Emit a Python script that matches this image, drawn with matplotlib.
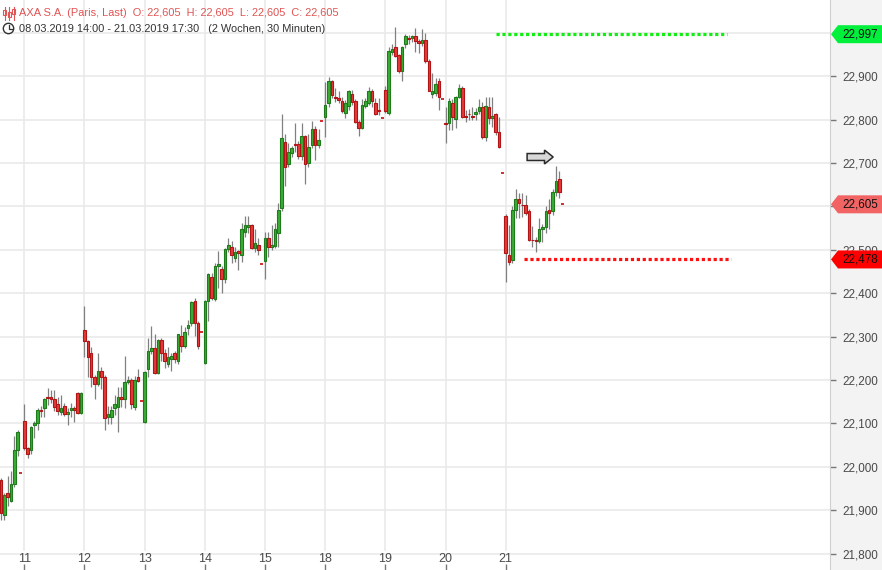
import numpy as np
import matplotlib
matplotlib.use("Agg")
import matplotlib.pyplot as plt
from matplotlib.patches import Polygon, FancyArrow, Circle, Rectangle
from matplotlib.lines import Line2D
from matplotlib.transforms import IdentityTransform, blended_transform_factory

plt.rcParams['font.family'] = ['Liberation Sans', 'DejaVu Sans']

# AXA S.A. 30 min candles, 08.03.2019 14:00 - 21.03.2019 17:30
day_labels = ["8", "11", "12", "13", "14", "15", "18", "19", "20", "21"]
candles_per_day = [8, 18, 18, 18, 18, 18, 18, 18, 18, 18]

opens = [21.955, 21.970, 21.888, 21.939, 21.922, 21.960, 22.040, 21.985,
         22.106, 22.044, 22.040, 22.096, 22.100, 22.131, 22.135, 22.160, 22.162, 22.156, 22.144, 22.126, 22.140, 22.122, 22.130, 22.136, 22.170, 22.125,
         22.315, 22.290, 22.262, 22.207, 22.191, 22.221, 22.207, 22.114, 22.114, 22.135, 22.139, 22.160, 22.156, 22.195, 22.200, 22.139, 22.207, 22.152,
         22.104, 22.225, 22.267, 22.275, 22.216, 22.292, 22.262, 22.236, 22.249, 22.262, 22.245, 22.302, 22.279, 22.321, 22.331, 22.383, 22.331, 22.310,
         22.240, 22.383, 22.437, 22.386, 22.463, 22.455, 22.432, 22.501, 22.506, 22.481, 22.497, 22.488, 22.541, 22.552, 22.557, 22.505, 22.511, 22.467,
         22.475, 22.527, 22.506, 22.510, 22.540, 22.596, 22.748, 22.697, 22.723, 22.745, 22.743, 22.717, 22.762, 22.701, 22.742, 22.779, 22.742, 22.796,
         22.807, 22.838, 22.889, 22.852, 22.851, 22.843, 22.816, 22.832, 22.859, 22.843, 22.795, 22.782, 22.832, 22.838, 22.865, 22.838, 22.822, 22.803,
         22.868, 22.816, 22.957, 22.967, 22.949, 22.913, 22.974, 22.988, 22.988, 22.993, 22.982, 22.977, 22.984, 22.936, 22.859, 22.861, 22.889, 22.848,
         22.792, 22.792, 22.838, 22.802, 22.852, 22.872, 22.808, 22.813, 22.808, 22.812, 22.821, 22.829, 22.761, 22.829, 22.803, 22.812, 22.772, 22.677,
         22.578, 22.488, 22.477, 22.592, 22.617, 22.604, 22.603, 22.589, 22.523, 22.522, 22.521, 22.547, 22.552, 22.592, 22.590, 22.633, 22.663, 22.605]

highs = [21.985, 21.975, 21.940, 21.980, 21.990, 22.071, 22.085, 21.985,
         22.145, 22.046, 22.095, 22.106, 22.136, 22.140, 22.158, 22.182, 22.177, 22.177, 22.160, 22.165, 22.148, 22.135, 22.148, 22.140, 22.172, 22.172,
         22.370, 22.292, 22.277, 22.212, 22.263, 22.230, 22.212, 22.140, 22.140, 22.166, 22.184, 22.183, 22.256, 22.210, 22.205, 22.210, 22.225, 22.152,
         22.222, 22.296, 22.325, 22.306, 22.295, 22.296, 22.271, 22.276, 22.263, 22.268, 22.306, 22.327, 22.322, 22.338, 22.383, 22.388, 22.335, 22.310,
         22.385, 22.447, 22.446, 22.470, 22.497, 22.462, 22.505, 22.527, 22.521, 22.507, 22.500, 22.561, 22.577, 22.577, 22.560, 22.547, 22.527, 22.467,
         22.541, 22.542, 22.557, 22.561, 22.607, 22.813, 22.767, 22.747, 22.740, 22.793, 22.750, 22.793, 22.765, 22.767, 22.797, 22.785, 22.778, 22.796,
         22.888, 22.898, 22.892, 22.872, 22.866, 22.852, 22.845, 22.868, 22.868, 22.847, 22.800, 22.847, 22.850, 22.876, 22.870, 22.849, 22.849, 22.803,
         22.878, 22.968, 22.974, 23.014, 22.952, 22.970, 22.998, 22.995, 22.996, 23.011, 22.985, 23.008, 22.999, 22.940, 22.907, 22.895, 22.895, 22.848,
         22.830, 22.850, 22.847, 22.855, 22.882, 22.878, 22.822, 22.825, 22.830, 22.828, 22.847, 22.840, 22.852, 22.852, 22.852, 22.815, 22.807, 22.677,
         22.582, 22.557, 22.600, 22.640, 22.630, 22.630, 22.627, 22.595, 22.556, 22.530, 22.573, 22.560, 22.600, 22.617, 22.640, 22.693, 22.682, 22.605]

lows = [21.940, 21.877, 21.877, 21.910, 21.918, 21.953, 22.026, 21.985,
        22.040, 22.021, 22.030, 22.067, 22.085, 22.115, 22.115, 22.143, 22.147, 22.129, 22.120, 22.120, 22.118, 22.097, 22.116, 22.104, 22.123, 22.123,
        22.254, 22.208, 22.184, 22.157, 22.186, 22.180, 22.085, 22.099, 22.099, 22.120, 22.081, 22.137, 22.136, 22.190, 22.133, 22.130, 22.195, 22.152,
        22.102, 22.208, 22.260, 22.214, 22.214, 22.243, 22.227, 22.231, 22.222, 22.240, 22.237, 22.265, 22.275, 22.304, 22.325, 22.302, 22.272, 22.310,
        22.238, 22.337, 22.385, 22.382, 22.413, 22.401, 22.423, 22.494, 22.469, 22.473, 22.453, 22.473, 22.530, 22.538, 22.502, 22.494, 22.488, 22.467,
        22.433, 22.483, 22.500, 22.505, 22.507, 22.590, 22.647, 22.690, 22.715, 22.725, 22.709, 22.707, 22.652, 22.690, 22.735, 22.707, 22.734, 22.796,
        22.759, 22.830, 22.850, 22.840, 22.838, 22.815, 22.805, 22.822, 22.835, 22.792, 22.763, 22.778, 22.828, 22.835, 22.829, 22.811, 22.810, 22.803,
        22.815, 22.810, 22.950, 22.945, 22.908, 22.890, 22.965, 22.975, 22.980, 22.956, 22.954, 22.970, 22.930, 22.865, 22.850, 22.855, 22.822, 22.848,
        22.746, 22.776, 22.776, 22.780, 22.850, 22.805, 22.795, 22.800, 22.800, 22.800, 22.812, 22.755, 22.750, 22.790, 22.784, 22.765, 22.734, 22.677,
        22.427, 22.465, 22.470, 22.573, 22.573, 22.575, 22.580, 22.520, 22.507, 22.494, 22.515, 22.519, 22.540, 22.548, 22.580, 22.625, 22.620, 22.605]

closes = [21.970, 21.894, 21.935, 21.930, 21.960, 22.040, 22.080, 21.985,
          22.044, 22.029, 22.091, 22.100, 22.130, 22.129, 22.156, 22.159, 22.156, 22.139, 22.129, 22.135, 22.122, 22.127, 22.136, 22.130, 22.125, 22.170,
          22.290, 22.254, 22.206, 22.191, 22.221, 22.207, 22.113, 22.121, 22.131, 22.144, 22.160, 22.156, 22.195, 22.200, 22.144, 22.200, 22.199, 22.152,
          22.219, 22.267, 22.275, 22.216, 22.292, 22.262, 22.245, 22.253, 22.255, 22.249, 22.306, 22.279, 22.310, 22.327, 22.379, 22.331, 22.279, 22.310,
          22.382, 22.444, 22.390, 22.463, 22.468, 22.432, 22.501, 22.511, 22.488, 22.496, 22.492, 22.547, 22.557, 22.557, 22.505, 22.517, 22.500, 22.467,
          22.527, 22.506, 22.511, 22.547, 22.592, 22.757, 22.692, 22.726, 22.735, 22.742, 22.717, 22.762, 22.697, 22.736, 22.779, 22.742, 22.753, 22.796,
          22.834, 22.889, 22.857, 22.851, 22.845, 22.821, 22.838, 22.865, 22.841, 22.795, 22.782, 22.834, 22.843, 22.867, 22.843, 22.813, 22.821, 22.803,
          22.821, 22.958, 22.962, 22.947, 22.913, 22.967, 22.993, 22.986, 22.993, 22.982, 22.977, 22.984, 22.936, 22.867, 22.867, 22.882, 22.852, 22.848,
          22.791, 22.843, 22.807, 22.852, 22.872, 22.807, 22.807, 22.812, 22.807, 22.817, 22.829, 22.761, 22.832, 22.803, 22.809, 22.772, 22.736, 22.677,
          22.492, 22.471, 22.592, 22.617, 22.607, 22.603, 22.586, 22.522, 22.522, 22.521, 22.547, 22.552, 22.590, 22.586, 22.633, 22.659, 22.633, 22.605]

resistance = 22.997
support = 22.478
y_ticks = [21.8, 21.9, 22.0, 22.1, 22.2, 22.3, 22.4, 22.5, 22.6, 22.7, 22.8, 22.9]

W, H = 882, 570
GREEN_F, GREEN_E = '#3aac34', '#1f7a1c'
RED_F, RED_E = '#e53a3a', '#b01414'


def fmt(v):
    return f"{v:.3f}".replace('.', ',')


o = np.array(opens); h = np.array(highs); l = np.array(lows); c = np.array(closes)
x = np.arange(len(o))
day_start = np.cumsum([0] + candles_per_day[:-1])

fig = plt.figure(figsize=(W / 100, H / 100), dpi=100)
fig.patch.set_facecolor('#f3f3f3')
ax = fig.add_axes([0, 0, 830 / W, 1])
ax.set_facecolor('white')
ax.set_xlim(0.73, 249.0)
ax.set_ylim(21.7624, 23.0758)

# grid
for v in np.arange(21.8, 23.05, 0.1):
    ax.axhline(v, color='#e8e8e8', lw=1.1, zorder=0)
for d in day_start[1:]:
    ax.axvline(d, ymin=20 / H, color='#e8e8e8', lw=1.1, zorder=0)

# wicks
single = h == l
ax.vlines(x[~single], l[~single], h[~single], color='#808080', lw=0.9, zorder=1)

up = c > o
down = (c <= o) & ~single
body = np.maximum(np.abs(c - o), 0.0012)
ax.bar(x[up], body[up], bottom=o[up], width=0.78, color=GREEN_F, edgecolor=GREEN_E, lw=0.8, zorder=2)
ax.bar(x[down], body[down], bottom=np.minimum(o, c)[down], width=0.78, color=RED_F, edgecolor=RED_E, lw=0.8, zorder=2)
ax.hlines(c[single], x[single] - 0.45, x[single] + 0.45, color='#cc1f1f', lw=1.3, zorder=2)

# support / resistance dotted lines
ax.plot([149.1, 218.2], [resistance, resistance], color='#11ee11', lw=2.3,
        ls=(0, (1, 0.85)), solid_capstyle='butt', zorder=3)
ax.plot([157.5, 219.4], [support, support], color='#ff1010', lw=2.3,
        ls=(0, (1, 0.85)), solid_capstyle='butt', zorder=3)

# arrow
ax.add_patch(FancyArrow(158.4, 22.714, 5.2, 0, width=0.016, head_width=0.032,
                        head_length=2.6, length_includes_head=False,
                        facecolor='#d8d8d8', edgecolor='#2a2a2a', lw=1.1, zorder=4))

# axes styling
for s in ['top', 'left', 'bottom']:
    ax.spines[s].set_visible(False)
ax.spines['right'].set_color('#cfcfcf')
ax.yaxis.tick_right()
ax.set_yticks(y_ticks)
# 22,600 sits under the last-price tag, so its label is left empty
ax.set_yticklabels(['' if abs(v - 22.6) < 1e-6 else fmt(v) for v in y_ticks])
ax.tick_params(axis='y', length=4, width=1, color='#777777', pad=5,
               labelsize=8.4, labelcolor='#4a4a4a')
ax.set_xticks(day_start[1:])
ax.set_xticklabels(day_labels[1:])
ax.tick_params(axis='x', direction='in', length=4, width=1, color='#777777',
               pad=-12, labelsize=9, labelcolor='#4a4a4a')

# price tags on the right axis
bt = blended_transform_factory(fig.transFigure, ax.transData)
hh = 9 / 434
for val, col in [(resistance, '#00f03c'), (closes[-1], '#f26464'), (support, '#ff0000')]:
    pts = [(831 / W, val), (838 / W, val + hh), (1.0, val + hh), (1.0, val - hh), (838 / W, val - hh)]
    fig.add_artist(Polygon(pts, closed=True, transform=bt, facecolor=col, edgecolor='none', zorder=5))
    fig.text(842 / W, val, fmt(val), transform=bt, va='center', ha='left',
             fontsize=8.4, color='#111111', zorder=6)

# header
fig.text(19 / W, 1 - 13.5 / H,
         f"AXA S.A. (Paris, Last)  O: {fmt(closes[-1])}  H: {fmt(closes[-1])}  "
         f"L: {fmt(closes[-1])}  C: {fmt(closes[-1])}",
         va='center', ha='left', fontsize=7.9, color='#e05454')
fig.text(19 / W, 1 - 28.5 / H,
         "08.03.2019 14:00 - 21.03.2019 17:30   (2 Wochen, 30 Minuten)",
         va='center', ha='left', fontsize=7.9, color='#333333')

idt = IdentityTransform()
# candle icon
for xi, (y0, y1, b0, b1) in zip([4.5, 9.0, 13.5], [(7, 20, 10, 15), (7, 20, 12, 17), (7, 20, 9, 14)]):
    fig.add_artist(Line2D([xi, xi], [H - y0, H - y1], transform=idt, color='#e05454', lw=0.8))
    fig.add_artist(Rectangle((xi - 1.5, H - b1), 3, b1 - b0, transform=idt,
                             facecolor='white', edgecolor='#e05454', lw=0.8))
# clock icon
fig.add_artist(Circle((8.5, H - 28.5), 5.2, transform=idt, facecolor='none', edgecolor='#333333', lw=1.0))
fig.add_artist(Line2D([8.5, 8.5, 11.5], [H - 25.0, H - 28.5, H - 28.5], transform=idt, color='#333333', lw=0.9))

fig.savefig('out.png', dpi=100, facecolor=fig.get_facecolor())
